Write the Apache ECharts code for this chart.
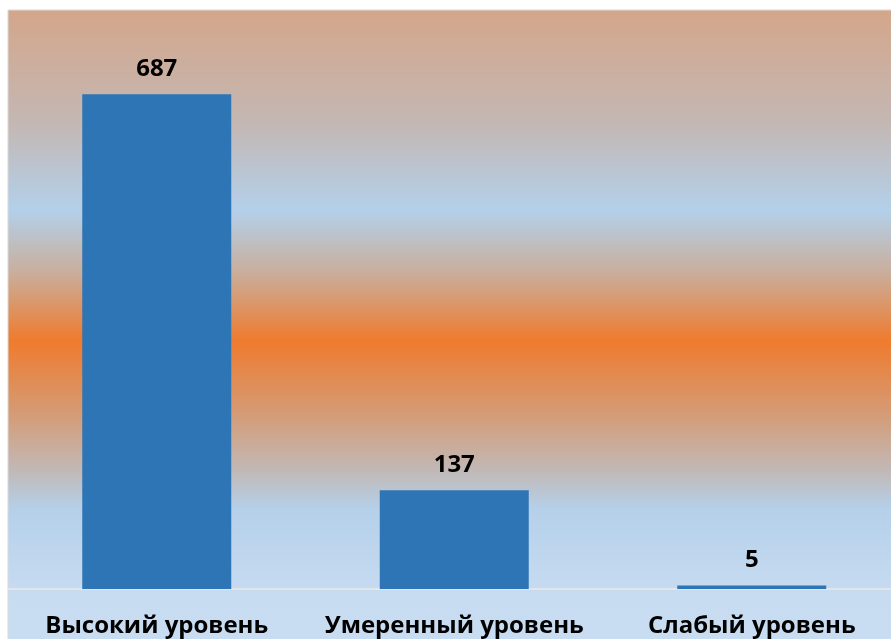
<!DOCTYPE html>
<html><head><meta charset="utf-8">
<script src="https://cdn.jsdelivr.net/npm/echarts@6/dist/echarts.min.js"></script>
<style>html,body{margin:0;padding:0;background:#fff;overflow:hidden;width:891px;height:639px}#c{width:911px;height:639px}</style>
</head><body><div id="c"></div>
<script>
const categories = ['Высокий уровень', 'Умеренный уровень', 'Слабый уровень'];
const values = [687, 137, 5];

const FONT = '"Open Sans", sans-serif';
const chart = echarts.init(document.getElementById('c'));
chart.setOption({
  animation: false,
  backgroundColor: '#ffffff',
  graphic: [{
    type: 'rect', z: -100, silent: true,
    shape: { x: 8, y: 10, width: 920, height: 640 },
    style: {
      fill: new echarts.graphic.LinearGradient(0, 0, 0, 1, [
        { offset: 0, color: '#d4a68a' },
        { offset: 0.175, color: '#c4b7b3' },
        { offset: 0.313, color: '#b3d0ea' },
        { offset: 0.41, color: '#c9ae9c' },
        { offset: 0.517, color: '#ef7b2e' },
        { offset: 0.62, color: '#d7986f' },
        { offset: 0.72, color: '#c1b9b7' },
        { offset: 0.78, color: '#b5d0ea' },
        { offset: 0.92, color: '#c8dcf1' },
        { offset: 1, color: '#c9ddf1' }
      ]),
      stroke: '#d9d9d9', lineWidth: 1
    }
  }],
  grid: { left: 8, top: 13, right: 10.5, bottom: 50, containLabel: false },
  xAxis: {
    type: 'category', data: categories,
    axisLine: { show: true, lineStyle: { color: '#e2e6ea', width: 2 } },
    axisTick: { show: false },
    axisLabel: { interval: 0, margin: 25, color: '#000', fontWeight: 'bold', fontSize: 24, fontFamily: FONT }
  },
  yAxis: {
    type: 'value', min: 0, max: 800, show: false,
    splitLine: { show: false }
  },
  series: [{
    type: 'bar', data: values, barWidth: 149,
    itemStyle: { color: '#2e75b6' },
    label: { show: true, position: 'top', distance: 13, color: '#000', fontWeight: 'bold', fontSize: 24, fontFamily: FONT }
  }]
});
</script></body></html>
